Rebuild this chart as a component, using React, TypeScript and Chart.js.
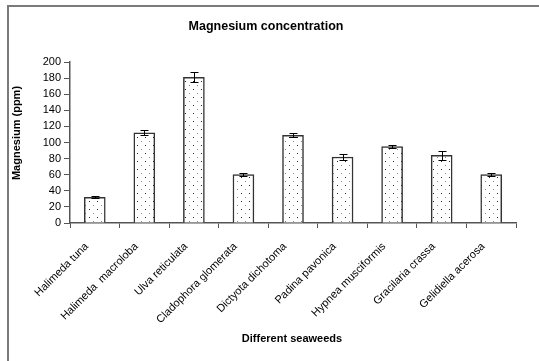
import React, { useEffect, useRef } from "react";
import { Chart, registerables } from "chart.js";

Chart.register(...registerables);

const categories = [
  "Halimeda tuna",
  "Halimeda  macroloba",
  "Ulva reticulata",
  "Cladophora glomerata",
  "Dictyota dichotoma",
  "Padina pavonica",
  "Hypnea musciformis",
  "Gracilaria crassa",
  "Gelidiella acerosa",
];
const magnesium = [32, 112, 181, 60, 109, 82, 95, 84, 60];
const errors = [1, 3, 6, 1.5, 2.5, 3.5, 1.5, 6, 2];
const yTicks = [0, 20, 40, 60, 80, 100, 120, 140, 160, 180, 200];

const chartTitle = "Magnesium concentration";
const yTitle = "Magnesium (ppm)";
const xTitle = "Different seaweeds";

function makePattern(): CanvasPattern | string {
  const c = document.createElement("canvas");
  c.width = 8;
  c.height = 8;
  const g = c.getContext("2d");
  if (!g) return "#fff";
  g.fillStyle = "#fff";
  g.fillRect(0, 0, 8, 8);
  g.fillStyle = "#222";
  g.fillRect(1, 1, 1, 1);
  g.fillStyle = "#888";
  g.fillRect(5, 5, 1, 1);
  const p = g.createPattern(c, "repeat");
  return p || "#fff";
}

const decorPlugin = {
  id: "decor",
  afterDraw(chart: any) {
    const ctx = chart.ctx;
    ctx.save();
    ctx.strokeStyle = "#7a7a7a";
    ctx.lineWidth = 2;
    ctx.strokeRect(8, 6, 700, 500);
    ctx.fillStyle = "#000";
    ctx.textAlign = "center";
    ctx.textBaseline = "middle";
    ctx.font = "bold 12.5px 'Liberation Sans', Arial, sans-serif";
    ctx.fillText(chartTitle, 266, 27);
    ctx.font = "bold 11px 'Liberation Sans', Arial, sans-serif";
    ctx.fillText(xTitle, 292, 339);
    ctx.translate(17, 133);
    ctx.rotate(-Math.PI / 2);
    ctx.fillText(yTitle, 0, 0);
    ctx.restore();
  },
  afterDatasetsDraw(chart: any) {
    const ctx = chart.ctx;
    const meta = chart.getDatasetMeta(0);
    const ys = chart.scales.y;
    ctx.save();
    ctx.strokeStyle = "#000";
    ctx.lineWidth = 1;
    meta.data.forEach((bar: any, i: number) => {
      const v = magnesium[i];
      const e = errors[i];
      const x = Math.round(bar.x) + 0.5;
      const yt = Math.round(ys.getPixelForValue(v + e)) + 0.5;
      const yb = Math.round(ys.getPixelForValue(v - e)) + 0.5;
      ctx.beginPath();
      ctx.moveTo(x, yt);
      ctx.lineTo(x, yb);
      ctx.moveTo(x - 4, yt);
      ctx.lineTo(x + 4, yt);
      ctx.moveTo(x - 4, yb);
      ctx.lineTo(x + 4, yb);
      ctx.stroke();
    });
    ctx.restore();
  },
};

export default function App() {
  const ref = useRef<HTMLCanvasElement | null>(null);
  useEffect(() => {
    if (!ref.current) return;
    const chart = new Chart(ref.current, {
      type: "bar",
      data: {
        labels: categories,
        datasets: [
          {
            data: magnesium,
            backgroundColor: makePattern() as any,
            borderColor: "#333",
            borderWidth: 1.5,
            barThickness: 21,
          },
        ],
      },
      options: {
        responsive: false,
        animation: false,
        layout: { padding: { top: 62, right: 23, left: 0, bottom: 0 } },
        plugins: {
          legend: { display: false },
          title: { display: false },
          tooltip: { enabled: false },
        },
        scales: {
          x: {
            afterFit: (s: any) => {
              s.height = 138;
            },
            grid: {
              drawOnChartArea: false,
              drawTicks: true,
              tickLength: 5,
              color: "#555",
              offset: true,
            },
            border: { display: true, color: "#555", width: 1.5 },
            ticks: {
              autoSkip: false,
              maxRotation: 45,
              minRotation: 45,
              color: "#000",
              padding: 12,
              labelOffset: -8,
              font: { family: "'Liberation Sans', Arial, sans-serif", size: 11 },
            },
          },
          y: {
            min: 0,
            max: 200,
            afterFit: (s: any) => {
              s.width = 70;
            },
            afterBuildTicks: (s: any) => {
              s.ticks = yTicks.map((v) => ({ value: v }));
            },
            grid: {
              drawOnChartArea: false,
              drawTicks: true,
              tickLength: 6,
              color: "#555",
            },
            border: { display: true, color: "#555", width: 1.5 },
            ticks: {
              autoSkip: false,
              color: "#000",
              padding: 3,
              font: { family: "'Liberation Sans', Arial, sans-serif", size: 11 },
            },
          },
        },
      },
      plugins: [decorPlugin],
    });
    return () => chart.destroy();
  }, []);
  return (
    <div style={{ position: "absolute", left: 0, top: 0, width: 539, height: 361 }}>
      <canvas ref={ref} width={539} height={361} style={{ display: "block" }} />
    </div>
  );
}
